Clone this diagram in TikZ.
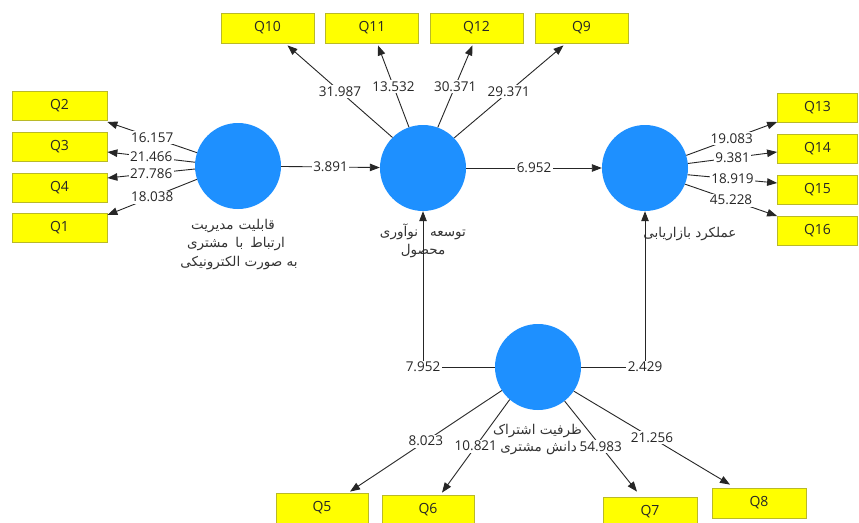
\documentclass[tikz,border=0pt]{standalone}
\usepackage{fontspec}
\setmainfont{Open Sans}
\newfontfamily\fa[Script=Arabic]{DejaVu Sans}
\TeXXeTstate=1
\usetikzlibrary{arrows.meta}
\definecolor{lvblue}{RGB}{30,144,255}
\definecolor{boxyellow}{RGB}{255,255,0}
\definecolor{boxedge}{RGB}{185,185,40}
\begin{document}
\begin{tikzpicture}[x=1pt,y=-1pt,
  lv/.style={circle,fill=lvblue,minimum size=86pt,inner sep=0pt},
  ind/.style={rectangle,fill=boxyellow,draw=boxedge,line width=0.8pt,minimum width=93pt,minimum height=30pt,inner sep=0pt,font=\fontsize{14}{16}\selectfont,text=black!85},
  lbl/.style={fill=white,inner sep=1.5pt,font=\fontsize{13.5}{15}\selectfont,text=black!85},
  con/.style={draw=black!85,line width=0.9pt,-{Triangle[length=10pt,width=7.5pt]}},
  fatxt/.style={font=\fa\fontsize{13.5}{15}\selectfont,inner sep=0pt,anchor=base,text=black!80}
]
\useasboundingbox (0,0) rectangle (859,522);
\clip (0,0) rectangle (859,522);
\fill[white] (0,0) rectangle (859,522);

% latent variables
\node[lv] (C1) at (238,166) {};
\node[lv] (C2) at (423,168) {};
\node[lv] (C3) at (645,168) {};
\node[lv] (C4) at (538,367) {};

% indicators left
\node[ind,minimum width=95pt,minimum height=29pt] (Q2) at (59.5,106) {Q2};
\node[ind,minimum width=95pt,minimum height=29pt] (Q3) at (59.5,147) {Q3};
\node[ind,minimum width=95pt,minimum height=29pt] (Q4) at (59.5,187.5) {Q4};
\node[ind,minimum width=95pt,minimum height=29pt] (Q1) at (59.5,228) {Q1};
% indicators top
\node[ind] (Q10) at (267.5,28) {Q10};
\node[ind] (Q11) at (372,28) {Q11};
\node[ind] (Q12) at (476.5,28) {Q12};
\node[ind] (Q9) at (581.5,28) {Q9};
% indicators right
\node[ind,minimum width=80pt,minimum height=29pt] (Q13) at (817.5,108) {Q13};
\node[ind,minimum width=80pt,minimum height=29pt] (Q14) at (817.5,149) {Q14};
\node[ind,minimum width=80pt,minimum height=29pt] (Q15) at (817.5,190) {Q15};
\node[ind,minimum width=80pt,minimum height=29pt] (Q16) at (817.5,231) {Q16};
% indicators bottom
\node[ind,minimum width=92pt] (Q5) at (322,508) {Q5};
\node[ind,minimum width=92pt] (Q6) at (428,510) {Q6};
\node[ind,minimum width=94pt] (Q7) at (650,512) {Q7};
\node[ind,minimum width=94pt] (Q8) at (759,503) {Q8};

% latent variable names
\node[fatxt] (T1a) at (233,229) {\beginR قابلیت\hspace{5pt}مدیریت\endR};
\node[fatxt] (T1b) at (236,247) {\beginR ارتباط\hspace{7pt}با\hspace{7pt}مشتری\endR};
\node[fatxt] (T1c) at (239,266) {\beginR به صورت الکترونیکی\endR};
\node[fatxt] (T2a) at (399,236) {\beginR نوآوری\endR};
\node[fatxt] (T2b) at (448,236) {\beginR توسعه\endR};
\node[fatxt] (T2c) at (423,254) {\beginR محصول\endR};
\node[fatxt] (T3) at (690,237) {\beginR عملکرد بازاریابی\endR};
\node[fatxt,anchor=base east] (T4a) at (582,434) {\beginR ظرفیت اشتراک\endR};
\node[fatxt,anchor=base east] (T4b) at (577,451) {\beginR دانش مشتری\endR};

% structural paths
\draw[con] (C1) -- node[lbl]{3.891} (C2);
\draw[con] (C2) -- node[lbl]{6.952} (C3);
\draw[con] (C4) -- (C2 |- C4) node[lbl]{7.952} -- (C2);
\draw[con] (C4) -- (C3 |- C4) node[lbl]{2.429} -- (C3);

% loadings left
\draw[con] (C1.162) -- node[lbl]{16.157} ([yshift=-16pt]Q2.east);
\draw[con] (C1.175) -- node[lbl]{21.466} ([yshift=-5pt]Q3.east);
\draw[con] (C1.184) -- node[lbl]{27.786} ([yshift=9.5pt]Q4.east);
\draw[con] (C1.198) -- node[lbl]{18.038} ([yshift=13pt]Q1.east);
% loadings top
\draw[con] (C2.135) -- node[lbl]{31.987} ([xshift=20pt,yshift=-2pt]Q10.south);
\draw[con] (C2.109) -- node[lbl]{13.532} ([xshift=6pt,yshift=-2pt]Q11.south);
\draw[con] (C2.70) -- node[lbl]{30.371} ([xshift=-4pt,yshift=-2pt]Q12.south);
\draw[con] (C2.44) -- node[lbl]{29.371} ([xshift=-18pt,yshift=-2pt]Q9.south);
% loadings right
\draw[con] (C3.17) -- node[lbl]{19.083} ([yshift=-14pt]Q13.west);
\draw[con] (C3.6.5) -- node[lbl]{9.381} ([yshift=-3pt]Q14.west);
\draw[con] (C3.351) -- node[lbl]{18.919} ([yshift=7pt]Q15.west);
\draw[con] (C3.338) -- node[lbl]{45.228} ([yshift=15pt]Q16.west);
% loadings bottom
\draw[con] (C4.213) -- node[lbl]{8.023} ([xshift=28pt,yshift=1pt]Q5.north);
\draw[con] (C4.229) -- node[lbl]{10.821} ([xshift=14pt,yshift=2pt]Q6.north);
\draw[con] (C4.308) -- node[lbl]{54.983} ([xshift=-13pt,yshift=5pt]Q7.north);
\draw[con] (C4.326) -- node[lbl]{21.256} ([xshift=-29pt,yshift=3pt]Q8.north);
\end{tikzpicture}
\end{document}
